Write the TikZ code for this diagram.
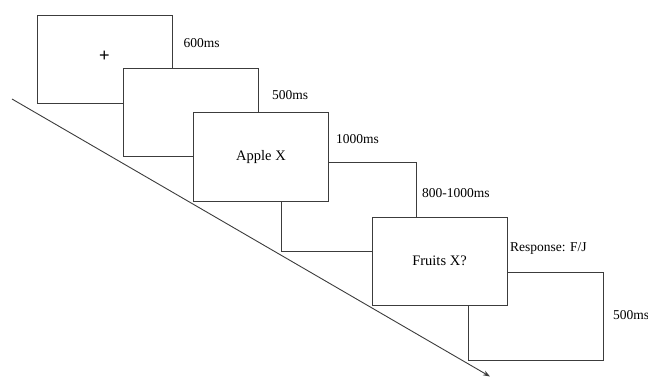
\documentclass[tikz,border=0pt]{standalone}
\usepackage{fontspec}
\setmainfont{Liberation Serif}
\setsansfont{Liberation Sans}
\usetikzlibrary{arrows.meta}
\definecolor{frame}{RGB}{60,60,60}

\begin{document}
\begin{tikzpicture}[x=1pt, y=-1pt,
    screen/.style={draw=frame, fill=white, line width=1pt, minimum width=135pt, minimum height=88pt, inner sep=0pt, font=\fontsize{14.5}{17}\selectfont},
    dur/.style={anchor=base west, inner sep=0pt, font=\fontsize{13.5}{16}\selectfont}]
    \useasboundingbox (0,0) rectangle (648,377);
    % time axis
    \coordinate (t0) at (12,99);
    \coordinate (t1) at (490,376.5);
    \draw[frame, line width=0.9pt, -{Stealth[length=7pt,width=5pt]}] (t0) -- (t1);
    % screens, back to front
    \foreach \name/\x/\y/\txt in {fix/104.5/59.5/, blankA/190.5/113/, blankB/348.5/207/, prime/261/157/Apple X, blankC/535.5/316/, probe/439.5/261/Fruits X?} {
      \node[screen] (\name) at (\x,\y) {\txt};
    }
    \node[font=\sffamily\fontsize{18}{20}\selectfont, inner sep=0pt] (cross) at (104.5,56) {+};
    % durations
    \node[dur] (dfix) at (183.5,47.5) {600ms};
    \node[dur] (dblankA) at (272,99.5) {500ms};
    \node[dur] (dprime) at (336,144) {1000ms};
    \node[dur] (dblankB) at (422,197.5) {800-1000ms};
    \node[dur] (dprobe) at (510,251.5) {Response: F/J};
    \node[dur] (dblankC) at (613,319.5) {500ms};
\end{tikzpicture}
\end{document}
